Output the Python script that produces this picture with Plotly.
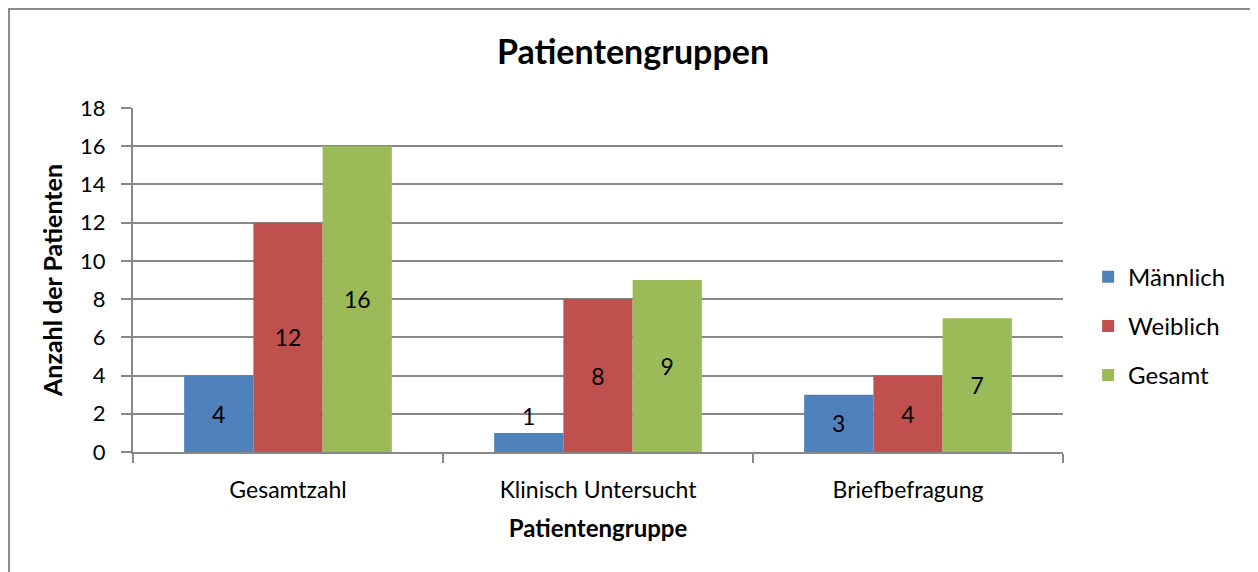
import plotly.graph_objects as go

categories = ["Gesamtzahl", "Klinisch Untersucht", "Briefbefragung"]
maennlich = [4, 1, 3]
weiblich = [12, 8, 4]
gesamt = [16, 9, 7]
y_ticks = [0, 2, 4, 6, 8, 10, 12, 14, 16, 18]

FONT = "Lato"
OFF = 8  # browser body margin
fig = go.Figure()
series = [
    ("Männlich", maennlich, "#4F81BD"),
    ("Weiblich", weiblich, "#C0504D"),
    ("Gesamt", gesamt, "#9BBB59"),
]
for name, vals, col in series:
    pos = ["outside" if v < 2 else "inside" for v in vals]
    fig.add_trace(go.Bar(
        name=name, x=categories, y=vals, marker_color=col,
        marker_line_width=0, legendgroup=name,
        text=[str(v) for v in vals], textposition=pos,
        insidetextanchor="middle",
        textfont=dict(family=FONT, size=23, color="black"),
        outsidetextfont=dict(family=FONT, size=23, color="black"),
        cliponaxis=False,
    ))

W, H = 1258 - OFF, 572 - OFF
L, T = 133 - OFF, 108 - OFF
PR, PB = 1063 - OFF, 452 - OFF
fig.update_layout(
    width=W, height=H,
    margin=dict(l=L, r=W - PR, t=T, b=H - PB, autoexpand=False),
    paper_bgcolor="white", plot_bgcolor="white",
    barmode="group", bargap=0.33, bargroupgap=0,
    font=dict(family=FONT, color="black"),
    title=dict(text="<b>Patientengruppen</b>", x=0.5, xref="container", xanchor="center",
               y=1 - (52 - OFF) / H, yref="container", yanchor="middle",
               font=dict(family=FONT, size=34, color="black")),
    legend=dict(x=1.027, xanchor="left", y=0.366, yanchor="middle",
                font=dict(family=FONT, size=24, color="black"),
                itemwidth=30, tracegroupgap=15,
                traceorder="grouped"),
    showlegend=True,
)
fig.update_xaxes(
    type="category", tickson="boundaries", ticks="outside", ticklen=9,
    tickwidth=2, tickcolor="#888888",
    showline=True, linecolor="#888888", linewidth=2,
    showgrid=False, tickfont=dict(family=FONT, size=23, color="black"),
    ticklabelstandoff=16,
    title=dict(text="<b>Patientengruppe</b>", font=dict(family=FONT, size=24, color="black"),
               standoff=19),
)
fig.update_yaxes(
    range=[0, 18], tickvals=y_ticks, ticks="outside", ticklen=10,
    tickwidth=2, tickcolor="#888888",
    showline=True, linecolor="#888888", linewidth=2,
    showgrid=True, gridcolor="#888888", gridwidth=2, zeroline=False,
    tickfont=dict(family=FONT, size=22, color="black"),
    ticklabelstandoff=11,
    title=dict(text="<b>Anzahl der Patienten</b>", font=dict(family=FONT, size=25, color="black"),
               standoff=10),
)
# outer chart frame
pw, ph = PR - L, PB - T
fig.add_shape(type="rect", xref="paper", yref="paper",
              x0=(1 - L) / pw, x1=(1257 - OFF - L) / pw,
              y0=(PB - 640) / ph, y1=(PB - 1) / ph,
              line=dict(color="#8c8c8c", width=2), layer="below")

fig.write_html("out.html")
